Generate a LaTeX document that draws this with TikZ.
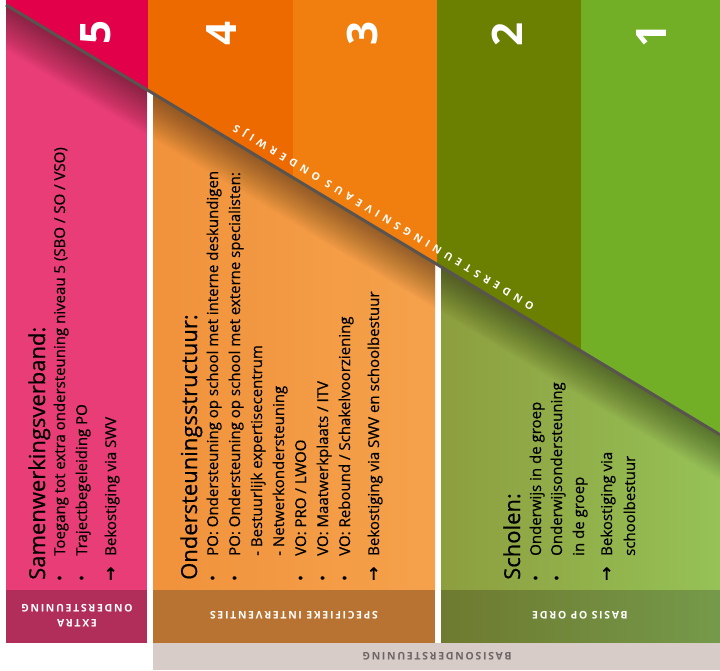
\documentclass[tikz,border=0pt]{standalone}
\usepackage{fontspec}
\setmainfont{Open Sans}
\newfontfamily\arrowfont{DejaVu Sans}
\definecolor{cFivetop}{HTML}{E3004B}
\definecolor{cFivelow}{HTML}{E83D76}
\definecolor{cFivebar}{HTML}{B22E5A}
\definecolor{cFourtop}{HTML}{EC6A00}
\definecolor{cThreetop}{HTML}{F07F0F}
\definecolor{cOrlowA}{HTML}{F1923C}
\definecolor{cOrlowB}{HTML}{F5A14B}
\definecolor{cOrbar}{HTML}{B87333}
\definecolor{cTwotop}{HTML}{6B7F00}
\definecolor{cOnetop}{HTML}{72AF26}
\definecolor{cGrlowA}{HTML}{8D9E3E}
\definecolor{cGrlowB}{HTML}{96C257}
\definecolor{cGrbarA}{HTML}{6E7A2F}
\definecolor{cGrbarB}{HTML}{75994A}
\definecolor{cGraybar}{HTML}{D8CCC9}
\definecolor{cGraytext}{HTML}{6E6565}
\definecolor{cLine}{HTML}{5A5450}
\newcommand\mybul{\makebox[25pt][l]{\textbullet}}
\newcommand\myarr{\makebox[25pt][l]{{\arrowfont\fontsize{17}{20}\selectfont\addfontfeature{FakeBold=1.5}→}}}
\begin{document}
\begin{tikzpicture}[x=1pt,y=-1pt,
  numlabel/.style={rotate=90, text=white, inner sep=0, font=\fontsize{42}{42}\selectfont\bfseries},
  headline/.style={rotate=90, anchor=base west, inner sep=0, font=\fontsize{22}{26}\selectfont\addfontfeature{FakeBold=0.6}},
  bodyline/.style={rotate=90, anchor=base west, inner sep=0, font=\fontsize{15}{20}\selectfont\addfontfeature{FakeBold=0.5}},
  barlabel/.style={rotate=180, text=white, inner sep=0, align=center, font=\fontsize{10.5}{15}\selectfont\bfseries\addfontfeature{LetterSpace=16}},
  diaglabel/.style={rotate=148.95, text=white, inner sep=0, font=\fontsize{10.5}{12}\selectfont\bfseries\addfontfeature{LetterSpace=47}}
]
\useasboundingbox (0,0) rectangle (720,670);
\begin{scope}
\clip (0,0) rectangle (720,670);
% top columns
\fill[cFivetop] (6,0) rectangle (148,590);
\fill[cFourtop] (148,0) rectangle (293,590);
\fill[cThreetop] (293,0) rectangle (437,590);
\fill[cTwotop] (437,0) rectangle (581,590);
\fill[cOnetop] (581,0) rectangle (720,590);
% lower part below diagonal
\begin{scope}
\clip (0,1.3) -- (720,434.7) -- (720,670) -- (0,670) -- cycle;
\fill[white] (0,0) rectangle (720,670);
\fill[cFivelow] (6,0) rectangle (147,590);
\shade[left color=cOrlowA, right color=cOrlowB] (153,0) rectangle (435,590);
\shade[left color=cGrlowA, right color=cGrlowB] (441,0) rectangle (720,590);
\begin{scope}
\clip (6,0) rectangle (147,590) (153,0) rectangle (435,590) (441,0) rectangle (720,590);
\foreach \i in {1,...,22}{
  \fill[black, opacity=0.021] (0,1.3) -- (720,434.7) -- (720,{434.7+2.05*\i}) -- (0,{1.3+2.05*\i}) -- cycle;
}
\end{scope}
\end{scope}
% bottom bars
\fill[cFivebar] (6,590) rectangle (147,643);
\fill[cOrbar] (153,590) rectangle (435,643);
\shade[left color=cGrbarA, right color=cGrbarB] (441,590) rectangle (720,643);
\fill[cGraybar] (153,643) rectangle (720,670);
% diagonal line
\coordinate (dA) at (6,4.9);
\coordinate (dB) at (720,434.7);
\draw[cLine, line width=3pt] (dA) -- (dB);
\end{scope}
% numbers
\node[numlabel] (n5) at (96,33) {5};
\node[numlabel] (n4) at (222,34) {4};
\node[numlabel] (n3) at (362,34) {3};
\node[numlabel] (n2) at (507,35) {2};
\node[numlabel] (n1) at (651,36) {1};
% diagonal text
\node[diaglabel] (diag) at (384,216.5) {ONDERSTEUNINGSNIVEAUS ONDERWIJS};
% column 5
\node[headline] (h5) at (45,580) {Samenwerkingsverband:};
\node[bodyline] (a1) at (65,581) {\mybul Toegang tot extra ondersteuning niveau 5 (SBO / SO / VSO)};
\node[bodyline] (a2) at (87,581) {\mybul Trajectbegeleiding PO};
\node[bodyline] (a3) at (116,581) {\myarr Bekostiging via SWV};
% columns 4/3
\node[headline] (h4) at (197,580) {Ondersteuningsstructuur:};
\node[bodyline] (b1) at (218,581) {\mybul PO: Ondersteuning op school met interne deskundigen};
\node[bodyline] (b2) at (240,581) {\mybul PO: Ondersteuning op school met externe specialisten:};
\node[bodyline] (b3) at (262,556) {- Bestuurlijk expertisecentrum};
\node[bodyline] (b4) at (284,556) {- Netwerkondersteuning};
\node[bodyline] (b5) at (306,581) {\mybul VO: PRO / LWOO};
\node[bodyline] (b6) at (328,581) {\mybul VO: Maatwerkplaats / ITV};
\node[bodyline] (b7) at (350,581) {\mybul VO: Rebound / Schakelvoorziening};
\node[bodyline] (b8) at (379,581) {\myarr Bekostiging via SWV en schoolbestuur};
% columns 2/1
\node[headline] (h2) at (520,580) {Scholen:};
\node[bodyline] (c1) at (541,581) {\mybul Onderwijs in de groep};
\node[bodyline] (c2) at (562,581) {\mybul Onderwijsondersteuning};
\node[bodyline] (c3) at (584,556) {in de groep};
\node[bodyline] (c4) at (612,581) {\myarr Bekostiging via};
\node[bodyline] (c5) at (635,556) {schoolbestuur};
% bar labels
\node[barlabel] (l5) at (77,616) {EXTRA\\ONDERSTEUNING};
\node[barlabel] (l4) at (294,615) {SPECIFIEKE INTERVENTIES};
\node[barlabel] (l2) at (580,615) {BASIS OP ORDE};
\node[barlabel, text=cGraytext] (lb) at (437,656) {BASISONDERSTEUNING};
\end{tikzpicture}
\end{document}
